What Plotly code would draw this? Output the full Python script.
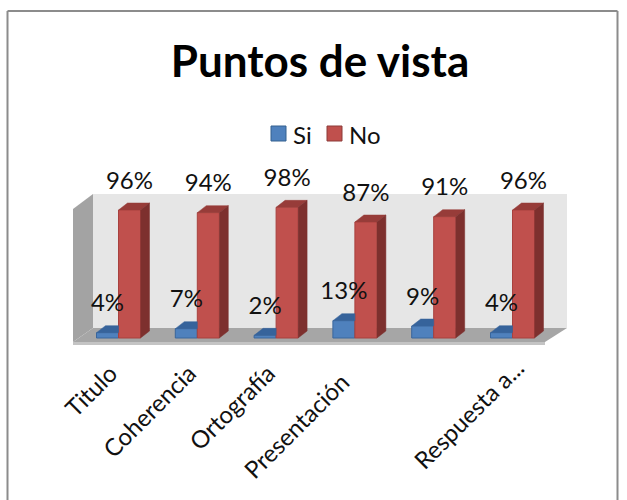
import plotly.graph_objects as go

si_values = [4, 7, 2, 13, 9, 4]
no_values = [96, 94, 98, 87, 91, 96]
tick_labels = ["Titulo", "Coherencia", "Ortografía"]
offset_labels = ["Presentación", "Respuesta a..."]
series_names = ["Si", "No"]

FONT = "Lato, Carlito, Calibri, sans-serif"
W, H = 627, 500
L, R, T, B = 72, 567, 150, 345
PX_X = 78.8
PX_Y = 4 / 3
X0_PX, Y0_PX = 118.5, 338
xr = [(L - X0_PX) / PX_X, (R - X0_PX) / PX_X]
yr = [(Y0_PX - B) / PX_Y, (Y0_PX - T) / PX_Y]
xs = list(range(len(si_values)))
BW = 22 / PX_X
DX = 9 / PX_X
DY = 7 / PX_Y


def px(x):
    return (x - X0_PX) / PX_X


def py(y):
    return (Y0_PX - y) / PX_Y


def pfx(x):
    return (x - L) / (R - L)


def pfy(y):
    return (B - y) / (B - T)


fig = go.Figure()
fig.add_bar(x=xs, y=si_values, name=series_names[0], offset=-BW, width=BW,
            marker=dict(color="#4f81bd", line=dict(color="#3a669c", width=1)))
fig.add_bar(x=xs, y=no_values, name=series_names[1], offset=0, width=BW,
            marker=dict(color="#c0504d", line=dict(color="#a8413e", width=1)))


def poly(px_list, py_list, color):
    fig.add_scatter(x=px_list, y=py_list, mode="lines", fill="toself", fillcolor=color,
                    line=dict(color=color, width=0.5), hoverinfo="skip", showlegend=False)


for x, v in zip(xs, si_values):
    # blue top face, cut where the red bar starts
    poly([x - BW, x - BW + DX, x, x], [v, v + DY, v + DY, v], "#36639b")
for x, v in zip(xs, no_values):
    poly([x, x + DX, x + BW + DX, x + BW], [v, v + DY, v + DY, v], "#973c39")
    poly([x + BW, x + BW + DX, x + BW + DX, x + BW], [v, v + DY, DY, 0], "#7d302e")

fig.add_scatter(x=[x - BW / 2 for x in xs], y=[v + 20.5 for v in si_values],
                text=[f"{v}%" for v in si_values], mode="text", showlegend=False, cliponaxis=False,
                textfont=dict(family=FONT, size=24, color="#111111"), hoverinfo="skip")
fig.add_scatter(x=[x + BW / 2 for x in xs], y=[v + 20.5 for v in no_values],
                text=[f"{v}%" for v in no_values], mode="text", showlegend=False, cliponaxis=False,
                textfont=dict(family=FONT, size=24, color="#111111"), hoverinfo="skip")


def scene(points, color):
    path = "M" + " L".join(f"{px(a)},{py(b)}" for a, b in points) + " Z"
    return dict(type="path", path=path, xref="x", yref="y", fillcolor=color,
                line=dict(width=0), layer="below")


shapes = [
    scene([(93, 194), (567, 194), (567, 328), (93, 328)], "#e6e6e6"),
    scene([(73, 209), (93, 194), (93, 328), (73, 342)], "#a3a3a3"),
    scene([(73, 342), (93, 328), (567, 328), (545, 342)], "#a6a6a6"),
    scene([(73, 342), (545, 342), (545, 345), (73, 345)], "#c4c4c4"),
]
for x0, y0, x1, y1 in [(7.5, 11, 617.5, 11), (7.5, 11, 7.5, 500), (617.5, 11, 617.5, 500)]:
    shapes.append(dict(type="line", xref="paper", yref="paper",
                       x0=pfx(x0), x1=pfx(x1), y0=pfy(y0), y1=pfy(y1),
                       line=dict(color="#8c8c8c", width=2)))

annotations = []
for name, sx, tx, fill, edge in [(series_names[0], 271, 293, "#4f81bd", "#35608f"),
                                 (series_names[1], 327, 349, "#c0504d", "#8c3a38")]:
    shapes.append(dict(type="rect", xref="paper", yref="paper", x0=pfx(sx), x1=pfx(sx + 15),
                       y0=pfy(126), y1=pfy(141), fillcolor=fill, line=dict(color=edge, width=1)))
    annotations.append(dict(text=name, xref="paper", yref="paper", x=pfx(tx), y=pfy(134),
                            xanchor="left", yanchor="middle", showarrow=False, xshift=-2,
                            font=dict(family=FONT, size=24, color="#111111")))
for label, cx, cy in zip(offset_labels, [296, 468.5], [425.5, 413.5]):
    annotations.append(dict(text=label, xref="paper", yref="paper", x=pfx(cx), y=pfy(cy),
                            xanchor="center", yanchor="middle", showarrow=False, textangle=-45,
                            font=dict(family=FONT, size=24, color="#111111")))

fig.update_layout(
    width=W, height=H, autosize=False,
    margin=dict(l=L, r=W - R, t=T, b=H - B),
    paper_bgcolor="white", plot_bgcolor="rgba(0,0,0,0)",
    barmode="overlay", showlegend=False,
    shapes=shapes, annotations=annotations,
    title=dict(text="<b>Puntos de vista</b>", x=320 / W, xanchor="center", y=1 - 62 / H, yanchor="middle",
               font=dict(family=FONT, size=44, color="#000000")),
    xaxis=dict(range=xr, tickmode="array", tickvals=[x - 8 / PX_X for x in xs[:3]], ticktext=tick_labels, tickangle=-45,
               showgrid=False, zeroline=False, showline=False, ticks="outside", ticklen=4,
               tickcolor="rgba(0,0,0,0)", tickfont=dict(family=FONT, size=24, color="#111111")),
    yaxis=dict(range=yr, visible=False, showgrid=False, zeroline=False),
)
fig.write_html("out.html", config={"displayModeBar": False},
               post_script="document.body.style.margin='0';document.body.style.overflow='hidden';")
